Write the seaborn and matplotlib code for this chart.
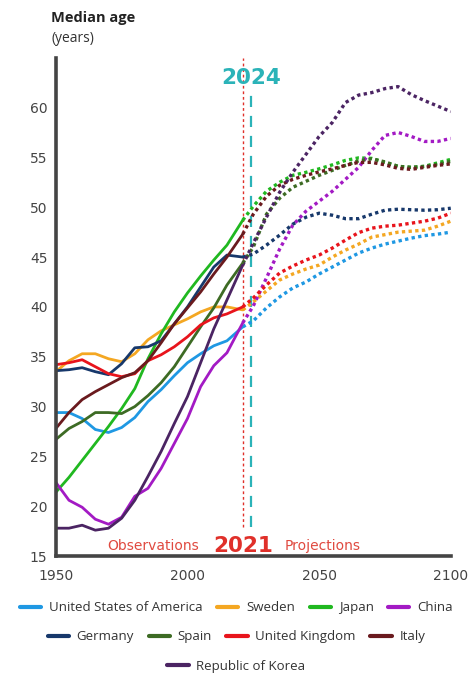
import matplotlib
matplotlib.use("Agg")
import matplotlib.pyplot as plt
from matplotlib.lines import Line2D
import seaborn as sns
import pandas as pd

# ---------------- data ----------------
countries = ["United States of America", "Sweden", "Japan", "China",
             "Germany", "Spain", "United Kingdom", "Italy", "Republic of Korea"]
colors = ["#1f98e3", "#f4a722", "#20b820", "#a31ac4",
          "#17386b", "#3d6b24", "#e8141c", "#6a1a1e", "#4b2463"]

obs_years = [1950, 1955, 1960, 1965, 1970, 1975, 1980, 1985, 1990, 1995,
             2000, 2005, 2010, 2015, 2021]
proj_years = [2021, 2025, 2030, 2035, 2040, 2045, 2050, 2055, 2060, 2065,
              2070, 2075, 2080, 2085, 2090, 2095, 2100]

usa_obs = [29.4, 29.4, 28.8, 27.7, 27.4, 27.9, 28.9, 30.5, 31.7, 33.1, 34.4, 35.3, 36.1, 36.6, 38.0]
sweden_obs = [33.5, 34.6, 35.3, 35.3, 34.8, 34.5, 35.3, 36.7, 37.6, 38.2, 38.8, 39.5, 40.0, 40.0, 39.7]
japan_obs = [21.4, 22.9, 24.6, 26.3, 28.0, 29.8, 31.8, 34.8, 37.3, 39.5, 41.4, 43.1, 44.7, 46.2, 48.7]
china_obs = [22.4, 20.6, 19.9, 18.7, 18.2, 18.9, 21.0, 21.8, 23.8, 26.3, 28.8, 32.0, 34.1, 35.4, 38.4]
germany_obs = [33.6, 33.7, 33.9, 33.5, 33.2, 34.3, 35.9, 36.0, 36.6, 38.3, 40.0, 42.0, 44.0, 45.2, 45.0]
spain_obs = [26.7, 27.8, 28.5, 29.4, 29.4, 29.3, 30.0, 31.1, 32.4, 34.0, 36.0, 38.0, 39.9, 42.2, 44.4]
uk_obs = [34.2, 34.4, 34.7, 34.0, 33.3, 33.0, 33.3, 34.6, 35.2, 36.0, 37.0, 38.2, 38.9, 39.3, 40.0]
italy_obs = [27.8, 29.4, 30.7, 31.5, 32.2, 32.9, 33.4, 34.6, 36.4, 38.3, 39.9, 41.5, 43.3, 45.0, 47.3]
korea_obs = [17.8, 17.8, 18.1, 17.6, 17.8, 18.8, 20.6, 23.0, 25.5, 28.3, 31.0, 34.4, 37.8, 40.7, 44.2]

usa_proj = [38.0, 38.6, 39.9, 41.0, 41.9, 42.5, 43.3, 44.0, 44.7, 45.4, 45.9, 46.3, 46.6, 46.9, 47.15, 47.3, 47.5]
sweden_proj = [39.7, 40.5, 41.6, 42.7, 43.3, 43.8, 44.2, 45.0, 45.7, 46.3, 47.0, 47.25, 47.5, 47.6, 47.7, 48.1, 48.6]
japan_proj = [48.7, 50.1, 51.6, 52.5, 53.2, 53.5, 53.85, 54.25, 54.7, 54.95, 54.9, 54.5, 54.1, 54.0, 54.1, 54.45, 54.8]
china_proj = [38.4, 40.1, 42.9, 45.8, 48.2, 49.6, 50.6, 51.6, 52.8, 54.0, 55.7, 57.2, 57.5, 57.1, 56.6, 56.6, 56.9]
germany_proj = [45.0, 45.3, 46.2, 47.2, 48.3, 49.0, 49.4, 49.2, 48.85, 48.85, 49.3, 49.7, 49.8, 49.75, 49.7, 49.75, 49.9]
spain_proj = [44.4, 46.0, 49.3, 50.9, 52.0, 52.6, 53.2, 53.7, 54.2, 54.65, 54.85, 54.55, 54.1, 54.0, 54.1, 54.3, 54.6]
uk_proj = [40.0, 40.9, 42.2, 43.4, 44.1, 44.7, 45.2, 45.9, 46.7, 47.45, 47.9, 48.1, 48.2, 48.4, 48.6, 48.9, 49.4]
italy_proj = [47.3, 49.3, 51.1, 52.2, 52.8, 53.2, 53.55, 53.85, 54.2, 54.5, 54.5, 54.25, 53.9, 53.8, 54.0, 54.2, 54.35]
korea_proj = [44.2, 46.4, 49.0, 51.5, 53.5, 55.3, 57.1, 58.5, 60.5, 61.25, 61.5, 61.9, 62.1, 61.3, 60.7, 60.15, 59.6]

obs_series = [usa_obs, sweden_obs, japan_obs, china_obs, germany_obs,
              spain_obs, uk_obs, italy_obs, korea_obs]
proj_series = [usa_proj, sweden_proj, japan_proj, china_proj, germany_proj,
               spain_proj, uk_proj, italy_proj, korea_proj]

y_ticks = [15, 20, 25, 30, 35, 40, 45, 50, 55, 60]
x_ticks = [1950, 2000, 2050, 2100]
obs_year_mark = 2021
now_year_mark = 2024

legend_rows = [countries[0:4], countries[4:8], countries[8:9]]

# ---------------- frames ----------------
def long_frame(years, series):
    rows = []
    for c, vals in zip(countries, series):
        for yr, v in zip(years, vals):
            rows.append({"year": yr, "age": v, "country": c})
    return pd.DataFrame(rows)

obs_df = long_frame(obs_years, obs_series)
proj_df = long_frame(proj_years, proj_series)
palette = dict(zip(countries, colors))

# ---------------- plot ----------------
sns.set_theme(style="white")
plt.rcParams["font.family"] = ["DejaVu Sans"]

fig = plt.figure(figsize=(4.73, 6.79), dpi=100)
ax = fig.add_axes([0.118, 0.181, 0.835, 0.734])

n0 = len(ax.lines)
sns.lineplot(data=proj_df, x="year", y="age", hue="country", hue_order=countries,
             palette=palette, legend=False, ax=ax, linewidth=2.4, estimator=None,
             sort=False)
for ln in ax.lines[n0:]:
    ln.set_linestyle((0, (1.0, 1.0)))
    ln.set_dash_capstyle("butt")
sns.lineplot(data=obs_df, x="year", y="age", hue="country", hue_order=countries,
             palette=palette, legend=False, ax=ax, linewidth=2.0, estimator=None,
             sort=False)

ax.set_xlim(1950, 2100)
ax.set_ylim(15, 65)
ax.set_xticks(x_ticks)
ax.set_yticks(y_ticks)
ax.set_xlabel("")
ax.set_ylabel("")
ax.tick_params(axis="both", length=0, labelsize=10, labelcolor="#444444")
ax.tick_params(axis="x", pad=9)
ax.tick_params(axis="y", pad=6)
for side in ["top", "right"]:
    ax.spines[side].set_visible(False)
for side in ["left", "bottom"]:
    ax.spines[side].set_color("#444444")
    ax.spines[side].set_linewidth(2.6)

# reference lines
ymin, ymax = ax.get_ylim()
def frac(v):
    return (v - ymin) / (ymax - ymin)
ax.axvline(obs_year_mark, ymin=frac(17.9), ymax=1.0, color="#e0302a",
           linewidth=1.0, linestyle=(0, (2, 2)), zorder=1)
ax.axvline(now_year_mark, ymin=frac(17.9), ymax=frac(61.5), color="#2bb3b8",
           linewidth=1.6, linestyle=(0, (5, 4)), zorder=1)

ax.text(now_year_mark, 63.0, "2024", color="#2bb3b8", fontsize=15.5,
        fontweight="bold", ha="center", va="center")
ax.text(obs_year_mark, 16.0, "2021", color="#e0302a", fontsize=15.5,
        fontweight="bold", ha="center", va="center")
ax.text(2004.5, 16.0, "Observations", color="#e04a40", fontsize=10,
        ha="right", va="center")
ax.text(2037, 16.0, "Projections", color="#e04a40", fontsize=10,
        ha="left", va="center")

# title
fig.text(0.108, 0.973, "Median age", fontsize=10.5, fontweight="bold",
         color="#222222", ha="left", va="center", family=["Open Sans", "DejaVu Sans"])
fig.text(0.108, 0.944, "(years)", fontsize=10, color="#333333",
         ha="left", va="center", family=["Open Sans", "DejaVu Sans"])

# legend rows
row_y = [0.1046, 0.0619, 0.0191]
for names, yy in zip(legend_rows, row_y):
    handles = [Line2D([0], [0], color=palette[n], linewidth=3) for n in names]
    fig.legend(handles, names, loc="center", bbox_to_anchor=(0.5, yy),
               ncol=len(names), frameon=False, handlelength=1.6,
               handletextpad=0.6, columnspacing=1.1, borderaxespad=0,
               prop={"family": ["Open Sans", "DejaVu Sans"], "size": 9.5},
               labelcolor="#333333")

fig.savefig("out.png", dpi=100, facecolor="white")
